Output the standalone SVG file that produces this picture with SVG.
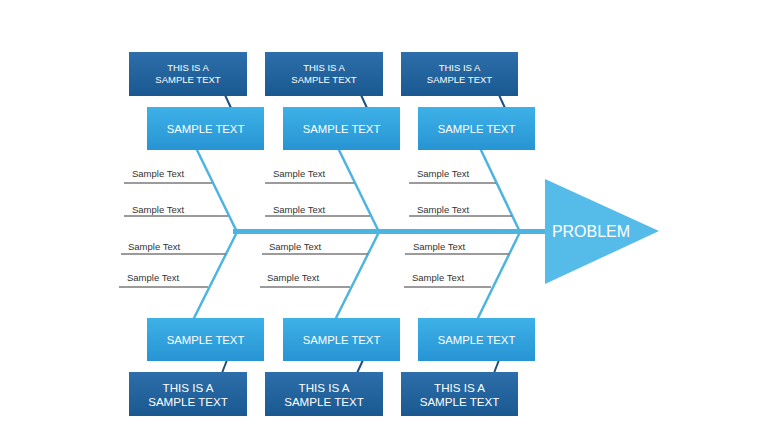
<svg xmlns="http://www.w3.org/2000/svg" width="760" height="428" viewBox="0 0 760 428">
<defs>
<linearGradient id="gDark" x1="0" y1="0" x2="0" y2="1">
<stop offset="0" stop-color="#2d6fab"/>
<stop offset="1" stop-color="#1a5890"/>
</linearGradient>
<linearGradient id="gLight" x1="0" y1="0" x2="0" y2="1">
<stop offset="0" stop-color="#3eb1e8"/>
<stop offset="1" stop-color="#2794d3"/>
</linearGradient>
<style>
.dark{fill:url(#gDark);}
.light{fill:url(#gLight);}
.bone{stroke:#4db4e2;stroke-width:2.5;fill:none;}
.spine{stroke:#4db4e2;stroke-width:5;fill:none;}
.tie{stroke:#1c4f7e;stroke-width:2;fill:none;}
.rule{stroke:#7a7a7a;stroke-width:1.5;fill:none;}
.t{font-family:"Liberation Sans",Arial,sans-serif;fill:#ffffff;text-anchor:middle;}
.ts{font-size:9.5px;}
.tm{font-size:11.3px;}
.tb{font-size:11.6px;}
.lbl{font-family:"Liberation Sans",Arial,sans-serif;font-size:9.5px;fill:#333333;}
</style>
</defs>
<rect width="760" height="428" fill="#ffffff"/>

<g id="connectors">
<line class="spine" x1="233" y1="231.5" x2="548" y2="231.5"/>
<line class="bone" x1="196" y1="148" x2="237" y2="232"/>
<line class="bone" x1="237" y1="232" x2="193" y2="320"/>
<line class="bone" x1="338" y1="148" x2="379" y2="232"/>
<line class="bone" x1="379" y1="232" x2="335" y2="320"/>
<line class="bone" x1="480" y1="148" x2="520" y2="232"/>
<line class="bone" x1="520" y1="232" x2="477" y2="320"/>
<line class="tie" x1="225" y1="95" x2="231" y2="108"/>
<line class="tie" x1="361" y1="95" x2="367" y2="108"/>
<line class="tie" x1="499" y1="95" x2="505" y2="108"/>
<line class="tie" x1="227" y1="360" x2="222" y2="373"/>
<line class="tie" x1="363" y1="360" x2="357" y2="373"/>
<line class="tie" x1="499" y1="360" x2="494" y2="373"/>
<line class="rule" x1="124" y1="183" x2="212" y2="183"/>
<line class="rule" x1="124" y1="216" x2="228" y2="216"/>
<line class="rule" x1="121" y1="254" x2="226" y2="254"/>
<line class="rule" x1="119" y1="287" x2="208" y2="287"/>
<line class="rule" x1="265" y1="183" x2="354" y2="183"/>
<line class="rule" x1="265" y1="216" x2="370" y2="216"/>
<line class="rule" x1="262" y1="254" x2="368" y2="254"/>
<line class="rule" x1="260" y1="287" x2="350" y2="287"/>
<line class="rule" x1="409" y1="183" x2="496" y2="183"/>
<line class="rule" x1="409" y1="216" x2="512" y2="216"/>
<line class="rule" x1="405" y1="254" x2="509" y2="254"/>
<line class="rule" x1="404" y1="287" x2="491" y2="287"/>
</g>

<g id="labels">
<text class="lbl" x="132" y="177">Sample Text</text>
<text class="lbl" x="132" y="213">Sample Text</text>
<text class="lbl" x="128" y="250">Sample Text</text>
<text class="lbl" x="127" y="281">Sample Text</text>
<text class="lbl" x="273" y="177">Sample Text</text>
<text class="lbl" x="273" y="213">Sample Text</text>
<text class="lbl" x="269" y="250">Sample Text</text>
<text class="lbl" x="267" y="281">Sample Text</text>
<text class="lbl" x="417" y="177">Sample Text</text>
<text class="lbl" x="417" y="213">Sample Text</text>
<text class="lbl" x="413" y="250">Sample Text</text>
<text class="lbl" x="412" y="281">Sample Text</text>
</g>

<g id="problem">
<polygon points="545,179 659,231 545,284" fill="#55bbe9"/>
<text class="t" x="591" y="237" font-size="16">PROBLEM</text>
</g>

<g id="top1">
<rect class="dark" x="129" y="52" width="118" height="44"/>
<text class="t ts" x="188" y="71">THIS IS A</text>
<text class="t ts" x="188" y="83">SAMPLE TEXT</text>
</g>
<g id="top2">
<rect class="dark" x="265" y="52" width="118" height="44"/>
<text class="t ts" x="324" y="71">THIS IS A</text>
<text class="t ts" x="324" y="83">SAMPLE TEXT</text>
</g>
<g id="top3">
<rect class="dark" x="401" y="52" width="117" height="44"/>
<text class="t ts" x="459.5" y="71">THIS IS A</text>
<text class="t ts" x="459.5" y="83">SAMPLE TEXT</text>
</g>

<g id="cause1">
<rect class="light" x="147" y="107" width="117" height="43"/>
<text class="t tm" x="205.5" y="132.5">SAMPLE TEXT</text>
</g>
<g id="cause2">
<rect class="light" x="283" y="107" width="117" height="43"/>
<text class="t tm" x="341.5" y="132.5">SAMPLE TEXT</text>
</g>
<g id="cause3">
<rect class="light" x="418" y="107" width="117" height="43"/>
<text class="t tm" x="476.5" y="132.5">SAMPLE TEXT</text>
</g>

<g id="cause4">
<rect class="light" x="147" y="318" width="117" height="43"/>
<text class="t tm" x="205.5" y="343.5">SAMPLE TEXT</text>
</g>
<g id="cause5">
<rect class="light" x="283" y="318" width="117" height="43"/>
<text class="t tm" x="341.5" y="343.5">SAMPLE TEXT</text>
</g>
<g id="cause6">
<rect class="light" x="418" y="318" width="117" height="43"/>
<text class="t tm" x="476.5" y="343.5">SAMPLE TEXT</text>
</g>

<g id="bottom1">
<rect class="dark" x="129" y="372" width="118" height="44"/>
<text class="t tb" x="188" y="391.5">THIS IS A</text>
<text class="t tb" x="188" y="405.5">SAMPLE TEXT</text>
</g>
<g id="bottom2">
<rect class="dark" x="265" y="372" width="118" height="44"/>
<text class="t tb" x="324" y="391.5">THIS IS A</text>
<text class="t tb" x="324" y="405.5">SAMPLE TEXT</text>
</g>
<g id="bottom3">
<rect class="dark" x="401" y="372" width="117" height="44"/>
<text class="t tb" x="459.5" y="391.5">THIS IS A</text>
<text class="t tb" x="459.5" y="405.5">SAMPLE TEXT</text>
</g>
</svg>
